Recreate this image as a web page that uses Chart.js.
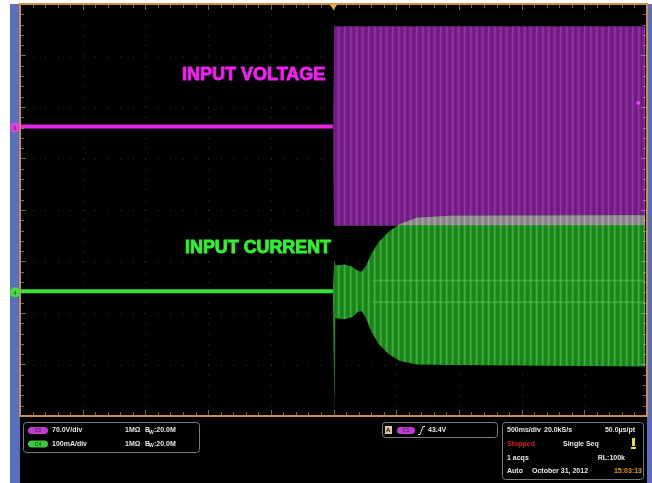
<!DOCTYPE html>
<html>
<head>
<meta charset="utf-8">
<script src="https://cdn.jsdelivr.net/npm/chart.js@4.4.1/dist/chart.umd.min.js"></script>
<style>
html, body { margin: 0; padding: 0; background: #fff; }
#scope { display: block; }
</style>
</head>
<body>
<canvas id="scope" width="652" height="483"></canvas>
<script>
// screen is 10 x 8 divisions, 500ms/div; values below are in divisions
const xMajor = [0, 1, 2, 3, 4, 5, 6, 7, 8, 9, 10];
const yMajor = [-4, -3, -2, -1, 0, 1, 2, 3, 4];

// CH1 input voltage (70.0V/div)
const voltFlatX = [0, 4.99];
const voltFlatY = [1.62, 1.62];
const voltBandX = [4.995, 5.01, 9.97];
const voltBandTop = [1.62, 3.57, 3.57];
const voltBandBot = [1.62, -0.30, -0.30];

// CH4 input current (100mA/div)
const currFlatX = [0, 4.99];
const currFlatY = [-1.58, -1.58];
const currBandX = [4.99, 5.015, 5.03, 5.18, 5.30, 5.39, 5.45, 5.52, 5.60, 5.72, 5.88, 6.06, 6.33, 6.86, 9.97];
const currBandTop = [-1.58, -0.94, -1.08, -1.06, -1.10, -1.18, -1.20, -1.08, -0.86, -0.62, -0.42, -0.27, -0.15, -0.11, -0.10];
const currBandBot = [-1.58, -3.94, -2.10, -2.12, -2.08, -1.98, -1.96, -2.10, -2.36, -2.60, -2.80, -2.93, -3.00, -3.01, -3.04];
const ridgeX = [5.62, 9.97];
const ridgeHi = [-1.37, -1.37];
const ridgeLo = [-1.79, -1.79];

// trigger: position and level marker
const trigX = [5.0];
const trigLevelX = [9.86];
const trigLevelY = [2.08];

function pts(xs, ys) {
    return xs.map((x, i) => ({ x: x, y: ys[i] }));
}

function stripes(cols) {
    const c = document.createElement('canvas');
    c.width = cols.length;
    c.height = 2;
    const g = c.getContext('2d');
    cols.forEach((col, i) => {
        g.fillStyle = col;
        g.fillRect(i, 0, 1, 2);
    });
    return document.getElementById('scope').getContext('2d').createPattern(c, 'repeat');
}

const purpleFill = stripes(['#721c84', '#78208a', '#9236a2', '#82289a', '#741e86', '#6c1a80']);
const greenFill = stripes(['#1e841e', '#229024', '#3cb23c', '#2a9a2a', '#1f881f', '#1b7e1b']);
const grayFill = stripes(['#8a868c', '#908c92', '#a8a6aa', '#98949a', '#8a868c', '#847e86']);
const none = 'rgba(0,0,0,0)';

function roundBox(c, x, y, w, h, r) {
    c.beginPath();
    c.moveTo(x + r, y);
    c.arcTo(x + w, y, x + w, y + h, r);
    c.arcTo(x + w, y + h, x, y + h, r);
    c.arcTo(x, y + h, x, y, r);
    c.arcTo(x, y, x + w, y, r);
    c.closePath();
}

function pill(c, x, y, w, h, color, label) {
    roundBox(c, x, y, w, h, h / 2);
    c.fillStyle = color;
    c.fill();
    c.fillStyle = 'rgba(0,0,0,0.55)';
    c.font = 'bold 5px "Liberation Sans", Arial, sans-serif';
    c.textAlign = 'center';
    c.fillText(label, x + w / 2, y + h / 2 + 0.5);
    c.textAlign = 'left';
}

function bw(c, x, y) {
    c.fillText('B', x, y);
    c.font = 'bold 5px "Liberation Sans", Arial, sans-serif';
    c.fillText('W', x + 4, y + 2);
    c.font = 'bold 7px "Liberation Sans", Arial, sans-serif';
    c.fillText(':20.0M', x + 9, y);
}

const scopePlugin = {
    id: 'scope',
    beforeDraw(chart) {
        const c = chart.ctx;
        const a = chart.chartArea;
        c.save();
        c.fillStyle = '#ffffff';
        c.fillRect(0, 0, chart.width, chart.height);
        c.fillStyle = '#5a6ebe';
        c.fillRect(10, a.top, chart.width - 10, chart.height - a.top);
        c.fillStyle = '#000000';
        c.fillRect(a.left, a.top, a.right - a.left, chart.height - a.top);
        c.restore();
    },
    beforeDatasetsDraw(chart) {
        const c = chart.ctx;
        const xs = chart.scales.x, ys = chart.scales.y;
        c.save();
        c.fillStyle = 'rgba(150,150,150,0.3)';
        xMajor.forEach(v => {
            const px = Math.round(xs.getPixelForValue(v));
            for (let t = -4; t <= 4.001; t += 0.2) {
                c.fillRect(px, Math.round(ys.getPixelForValue(t)), 1, 1);
            }
        });
        yMajor.forEach(v => {
            const py = Math.round(ys.getPixelForValue(v));
            for (let t = 0; t <= 10.001; t += 0.2) {
                c.fillRect(Math.round(xs.getPixelForValue(t)), py, 1, 1);
            }
        });
        c.restore();
    },
    afterDatasetsDraw(chart) {
        const c = chart.ctx;
        const a = chart.chartArea;
        const xs = chart.scales.x, ys = chart.scales.y;
        c.save();
        // edge ticks
        c.strokeStyle = 'rgba(190,190,190,0.55)';
        c.lineWidth = 1;
        c.beginPath();
        for (let t = 0.2; t < 10; t += 0.2) {
            const px = Math.round(xs.getPixelForValue(t)) + 0.5;
            const len = Math.abs(t - Math.round(t)) < 0.01 ? 6 : 4;
            c.moveTo(px, a.top); c.lineTo(px, a.top + len);
            c.moveTo(px, a.bottom); c.lineTo(px, a.bottom - len);
        }
        for (let t = -3.8; t < 4; t += 0.2) {
            const py = Math.round(ys.getPixelForValue(t)) + 0.5;
            const len = Math.abs(t - Math.round(t)) < 0.01 ? 6 : 4;
            c.moveTo(a.left, py); c.lineTo(a.left + len, py);
            c.moveTo(a.right, py); c.lineTo(a.right - len, py);
        }
        c.stroke();
        // frame
        c.strokeStyle = '#c8904a';
        c.lineWidth = 2;
        c.strokeRect(a.left, a.top, a.right - a.left, a.bottom - a.top);
        // trigger position marker
        const tx = xs.getPixelForValue(trigX[0]);
        c.fillStyle = '#e8b040';
        c.beginPath();
        c.moveTo(tx - 4, a.top);
        c.lineTo(tx + 4, a.top);
        c.lineTo(tx, a.top + 6);
        c.closePath();
        c.fill();
        // channel ground markers
        [[voltFlatY[0], '#e040e0', '1'], [currFlatY[0], '#40e040', '4']].forEach(m => {
            const py = ys.getPixelForValue(m[0]);
            c.beginPath();
            c.arc(a.left - 5, py + 1, 5, 0, Math.PI * 2);
            c.fillStyle = m[1];
            c.fill();
            c.fillStyle = 'rgba(0,0,0,0.5)';
            c.font = 'bold 6px "Liberation Sans", Arial, sans-serif';
            c.textAlign = 'center';
            c.textBaseline = 'middle';
            c.fillText(m[2], a.left - 5, py + 1.5);
        });
        // trace labels
        c.textAlign = 'left';
        c.textBaseline = 'alphabetic';
        c.font = 'bold 18px "Liberation Sans", Arial, sans-serif';
        c.lineWidth = 0.9;
        c.fillStyle = c.strokeStyle = '#f020f0';
        c.fillText('INPUT VOLTAGE', xs.getPixelForValue(2.584), ys.getPixelForValue(2.528), 145);
        c.strokeText('INPUT VOLTAGE', xs.getPixelForValue(2.584), ys.getPixelForValue(2.528), 145);
        c.fillStyle = c.strokeStyle = '#30f030';
        c.fillText('INPUT CURRENT', xs.getPixelForValue(2.632), ys.getPixelForValue(-0.843), 146);
        c.strokeText('INPUT CURRENT', xs.getPixelForValue(2.632), ys.getPixelForValue(-0.843), 146);

        // status area
        c.strokeStyle = '#7a7a7a';
        c.lineWidth = 1;
        roundBox(c, 23.5, 422.5, 176, 30, 3); c.stroke();
        roundBox(c, 382.5, 422.5, 115, 15, 3); c.stroke();
        roundBox(c, 502.5, 422.5, 141, 57, 3); c.stroke();

        c.textBaseline = 'middle';
        pill(c, 28, 427, 20, 7, '#c23cd2', 'C1');
        pill(c, 28, 440.5, 20, 7, '#3cc83c', 'C4');
        c.font = 'bold 7px "Liberation Sans", Arial, sans-serif';
        c.fillStyle = '#e6e6e6';
        c.fillText('70.0V/div', 52, 430.5);
        c.fillText('1MΩ', 125, 430.5);
        bw(c, 145, 430.5);
        c.fillText('100mA/div', 52, 444);
        c.fillText('1MΩ', 125, 444);
        bw(c, 145, 444);

        // trigger readout
        c.fillStyle = '#d8c8a0';
        c.fillRect(385, 426, 7, 8);
        c.fillStyle = '#000';
        c.font = 'bold 6px "Liberation Sans", Arial, sans-serif';
        c.fillText('A', 386, 430.5);
        pill(c, 397, 427, 18, 7, '#c23cd2', 'C1');
        c.strokeStyle = '#e6e6e6';
        c.beginPath();
        c.moveTo(418, 434.5); c.lineTo(420, 434.5); c.lineTo(423, 426.5); c.lineTo(425, 426.5);
        c.stroke();
        c.font = 'bold 7px "Liberation Sans", Arial, sans-serif';
        c.fillStyle = '#e6e6e6';
        c.fillText('43.4V', 428, 430.5);

        // acquisition readout
        c.fillText('500ms/div', 507, 430.5);
        c.fillText('20.0kS/s', 544, 430.5);
        c.textAlign = 'right';
        c.fillText('50.0µs/pt', 635, 430.5);
        c.fillText('RL:100k', 625, 458);
        c.textAlign = 'left';
        c.fillText('Single Seq', 563, 444);
        c.fillText('1 acqs', 507, 458);
        c.fillText('Auto', 507, 471.5);
        c.fillText('October 31, 2012', 532, 471.5);
        c.fillStyle = '#d42020';
        c.fillText('Stopped', 507, 444);
        c.fillStyle = '#e09a20';
        c.textAlign = 'right';
        c.fillText('15:03:13', 642, 471.5);
        c.fillStyle = '#e8e040';
        c.fillRect(632, 438, 3, 8);
        c.fillRect(631, 447, 5, 2);
        c.restore();
    }
};

const lineBase = { pointRadius: 0, borderWidth: 0, borderColor: none, tension: 0, fill: false };

new Chart(document.getElementById('scope'), {
    type: 'line',
    data: {
        datasets: [
            { ...lineBase, label: 'CH1', data: pts(voltFlatX, voltFlatY), borderColor: '#e426e4', borderWidth: 4, order: 1 },
            { ...lineBase, label: 'CH4', data: pts(currFlatX, currFlatY), borderColor: '#36e436', borderWidth: 4, order: 1 },
            { ...lineBase, label: 'CH1 max', data: pts(voltBandX, voltBandTop), fill: 3, backgroundColor: purpleFill, order: 6 },
            { ...lineBase, label: 'CH1 min', data: pts(voltBandX, voltBandBot), order: 6 },
            { ...lineBase, label: 'CH4 max', data: pts(currBandX, currBandTop), fill: 5, backgroundColor: greenFill, order: 5 },
            { ...lineBase, label: 'CH4 min', data: pts(currBandX, currBandBot), order: 5 },
            { ...lineBase, label: 'overlap', data: pts(currBandX, currBandTop), fill: { target: 3, above: grayFill, below: none }, order: 4 },
            { ...lineBase, label: 'ridge hi', data: pts(ridgeX, ridgeHi), borderColor: 'rgba(90,200,90,0.45)', borderWidth: 2, order: 3 },
            { ...lineBase, label: 'ridge lo', data: pts(ridgeX, ridgeLo), borderColor: 'rgba(90,200,90,0.45)', borderWidth: 2, order: 3 },
            { ...lineBase, label: 'trig level', data: pts(trigLevelX, trigLevelY), showLine: false, pointRadius: 2, pointBackgroundColor: '#f040f0', pointBorderWidth: 0, order: 2 }
        ]
    },
    options: {
        responsive: false,
        animation: false,
        layout: { padding: { left: 20, right: 5, top: 3, bottom: 67 } },
        scales: {
            x: { type: 'linear', min: 0, max: 10, display: false },
            y: { type: 'linear', min: -4, max: 4, display: false }
        },
        plugins: { legend: { display: false }, tooltip: { enabled: false } }
    },
    plugins: [scopePlugin]
});
</script>
</body>
</html>
